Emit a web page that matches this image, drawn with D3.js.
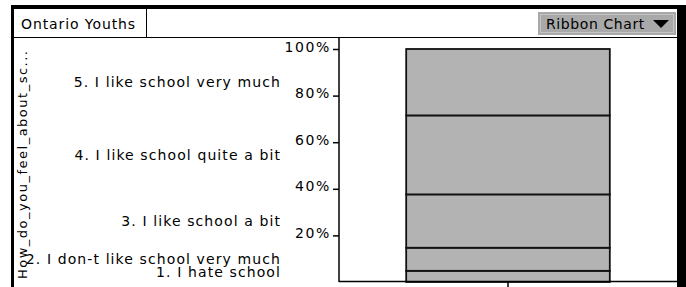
<!DOCTYPE html>
<html>
<head>
<meta charset="utf-8">
<script src="https://cdn.jsdelivr.net/npm/d3@7"></script>
<style>
  body { margin: 0; background: #fff; }
  svg text { font-family: "DejaVu Sans", sans-serif; font-size: 14px; fill: #000; letter-spacing: 1.1px; }
</style>
</head>
<body>
<div id="chart"></div>
<script>
// data (percent of respondents, bottom to top)
var groupName = "Ontario Youths";
var answers = ["1. I hate school",
               "2. I don-t like school very much",
               "3. I like school a bit",
               "4. I like school quite a bit",
               "5. I like school very much"];
var shares = [4.8, 9.9, 22.9, 33.9, 28.5];
var tickValues = [20, 40, 60, 80, 100];
var axisTitle = "How_do_you_feel_about_sc...";
var chartType = "Ribbon Chart";

var width = 686, height = 287;

var svg = d3.select("#chart").append("svg")
	.attr("width", width)
	.attr("height", height);

// window frame
svg.append("rect").attr("x", 11).attr("y", 5).attr("width", width - 11).attr("height", height)
	.style("fill", "#000");
svg.append("rect").attr("x", 14).attr("y", 9).attr("width", 663).attr("height", height)
	.style("fill", "#fff");

// header row
svg.append("line").attr("x1", 14).attr("x2", 677).attr("y1", 37.5).attr("y2", 37.5)
	.style("stroke", "#000");
svg.append("line").attr("x1", 146.5).attr("x2", 146.5).attr("y1", 9).attr("y2", 37)
	.style("stroke", "#000");
svg.append("text").attr("x", 21).attr("y", 29).style("letter-spacing", "0.9px").text(groupName);

var btn = svg.append("g");
btn.append("rect").attr("x", 538).attr("y", 12).attr("width", 138).attr("height", 23)
	.style("fill", "#a9a9a9");
btn.append("rect").attr("x", 540.5).attr("y", 14.5).attr("width", 133).attr("height", 18)
	.style("fill", "none").style("stroke", "#c4c4c4");
btn.append("text").attr("x", 546).attr("y", 29).style("letter-spacing", "0.6px").text(chartType);
btn.append("path").attr("d", "M653,20 L669,20 L661,28 Z").style("fill", "#000");

// scales
var y = d3.scaleLinear().domain([0, 100]).range([282, 49]);
var x = d3.scaleBand().domain([groupName]).range([339, 677]).paddingInner(0).paddingOuter(0.33);

// stacked segments
var stacked = [];
var run = 0;
shares.forEach(function(v, i) {
	stacked.push({label: answers[i], y0: run, y1: run + v});
	run += v;
});

svg.append("g")
  .selectAll("rect")
  .data(stacked)
  .enter().append("rect")
	.attr("x", x(groupName))
	.attr("width", x.bandwidth())
	.attr("y", function(d) { return y(d.y1); })
	.attr("height", function(d) { return y(d.y0) - y(d.y1); })
	.style("fill", "#b3b3b3")
	.style("stroke", "#111")
	.style("stroke-width", 1.8);

// y axis
var yAxis = svg.append("g")
	.attr("transform", "translate(339,0)")
	.call(d3.axisLeft(y).tickValues(tickValues).tickSize(6).tickPadding(2)
		.tickFormat(function(d) { return d + "%"; }));
yAxis.select(".domain").remove();
yAxis.selectAll("line").style("stroke-width", 1.5);
yAxis.selectAll("text").style("font-size", "14px").style("font-family", null)
	.style("letter-spacing", "1.6px").attr("dy", "0.15em");
svg.append("line").attr("x1", 339).attr("x2", 339).attr("y1", 38).attr("y2", 282)
	.style("stroke", "#000").style("stroke-width", 1.5);

// x axis
svg.append("line").attr("x1", 339).attr("x2", 677).attr("y1", 281.5).attr("y2", 281.5)
	.style("stroke", "#000").style("stroke-width", 1.5);
svg.append("line")
	.attr("x1", x(groupName) + x.bandwidth() / 2).attr("x2", x(groupName) + x.bandwidth() / 2)
	.attr("y1", 282).attr("y2", 290)
	.style("stroke", "#000").style("stroke-width", 1.5);

// axis title
svg.append("text")
	.attr("transform", "translate(27,279) rotate(-90)")
	.style("font-size", "13px").style("letter-spacing", "1.5px")
	.text(axisTitle);

// category labels at segment middles
svg.append("g")
  .selectAll("text")
  .data(stacked)
  .enter().append("text")
	.attr("x", 281)
	.attr("y", function(d) { return Math.min(y((d.y0 + d.y1) / 2), y(0) - 10); })
	.attr("dy", "0.36em")
	.style("text-anchor", "end")
	.text(function(d) { return d.label; });
</script>
</body>
</html>
